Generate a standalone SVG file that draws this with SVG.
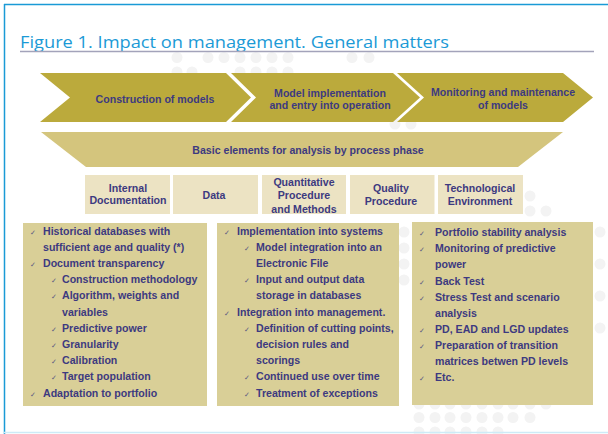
<svg xmlns="http://www.w3.org/2000/svg" width="608" height="434" viewBox="0 0 608 434">
<style>
.t{font-family:"Liberation Sans",Arial,sans-serif;font-weight:bold;font-size:10.6px;fill:#3d3a80}
.c{text-anchor:middle}
.ck{font-family:"DejaVu Sans",sans-serif;font-size:7px;fill:#5a5a82}
.chev{fill:#bbaa3c}
.trap{fill:#d4c57d}
.el{fill:#ece3c3}
.lst{fill:#d9cf97}
.dot{fill:#f3f3f3}
</style>
<rect x="0" y="0" width="608" height="434" fill="#ffffff"/>
<g id="background-dots">
<circle class="dot" cx="177" cy="57.5" r="5.5"/>
<circle class="dot" cx="208" cy="57.5" r="5.5"/>
<circle class="dot" cx="224" cy="57.5" r="5.5"/>
<circle class="dot" cx="240" cy="57.5" r="5.5"/>
<circle class="dot" cx="256" cy="57.5" r="5.5"/>
<circle class="dot" cx="272" cy="57.5" r="5.5"/>
<circle class="dot" cx="288" cy="57.5" r="5.5"/>
<circle class="dot" cx="352" cy="57.5" r="5.5"/>
<circle class="dot" cx="369" cy="57.5" r="5.5"/>
<circle class="dot" cx="177" cy="72" r="5.5"/>
<circle class="dot" cx="192" cy="72" r="5.5"/>
<circle class="dot" cx="240" cy="72" r="5.5"/>
<circle class="dot" cx="256" cy="72" r="5.5"/>
<circle class="dot" cx="272" cy="72" r="5.5"/>
<circle class="dot" cx="288" cy="72" r="5.5"/>
<circle class="dot" cx="395" cy="124" r="5.5"/>
<circle class="dot" cx="411" cy="124" r="5.5"/>
<circle class="dot" cx="530" cy="196" r="5.5"/>
<circle class="dot" cx="530" cy="211" r="5.5"/>
<circle class="dot" cx="546" cy="211" r="5.5"/>
<circle class="dot" cx="404" cy="232" r="5.5"/>
<circle class="dot" cx="404" cy="248" r="5.5"/>
<circle class="dot" cx="404" cy="264" r="5.5"/>
<circle class="dot" cx="404" cy="280" r="5.5"/>
<circle class="dot" cx="600" cy="232" r="5.5"/>
<circle class="dot" cx="600" cy="264" r="5.5"/>
<circle class="dot" cx="600" cy="296" r="5.5"/>
<circle class="dot" cx="600" cy="328" r="5.5"/>
<circle class="dot" cx="419" cy="404" r="5.5"/>
<circle class="dot" cx="435" cy="404" r="5.5"/>
<circle class="dot" cx="450" cy="404" r="5.5"/>
<circle class="dot" cx="466" cy="404" r="5.5"/>
<circle class="dot" cx="482" cy="404" r="5.5"/>
<circle class="dot" cx="498" cy="404" r="5.5"/>
<circle class="dot" cx="513" cy="404" r="5.5"/>
<circle class="dot" cx="530" cy="404" r="5.5"/>
<circle class="dot" cx="546" cy="404" r="5.5"/>
<circle class="dot" cx="419" cy="417.5" r="5.5"/>
<circle class="dot" cx="435" cy="417.5" r="5.5"/>
<circle class="dot" cx="450" cy="417.5" r="5.5"/>
<circle class="dot" cx="466" cy="417.5" r="5.5"/>
<circle class="dot" cx="482" cy="417.5" r="5.5"/>
<circle class="dot" cx="498" cy="417.5" r="5.5"/>
<circle class="dot" cx="513" cy="417.5" r="5.5"/>
<circle class="dot" cx="530" cy="417.5" r="5.5"/>
<circle class="dot" cx="419" cy="432" r="5.5"/>
<circle class="dot" cx="435" cy="432" r="5.5"/>
<circle class="dot" cx="450" cy="432" r="5.5"/>
<circle class="dot" cx="466" cy="432" r="5.5"/>
<circle class="dot" cx="482" cy="432" r="5.5"/>
<circle class="dot" cx="498" cy="432" r="5.5"/>
</g>
<g id="frame">
<line x1="4.5" y1="4" x2="4.5" y2="434" stroke="#1a9ad6" stroke-width="1.5"/>
<line x1="4" y1="4.5" x2="608" y2="4.5" stroke="#1a9ad6" stroke-width="1.5"/>
<line x1="4" y1="432.5" x2="608" y2="432.5" stroke="#cdebf7" stroke-width="1.5"/>
</g>
<g id="title">
<text x="20" y="48" font-family="'Open Sans','Noto Sans',sans-serif" font-size="17" fill="#1b9ad6" textLength="429" lengthAdjust="spacingAndGlyphs">Figure 1. Impact on management. General matters</text>
<line x1="20" y1="51.5" x2="594" y2="51.5" stroke="#a3a3ba" stroke-width="1.3"/>
</g>
<g id="phase-construction">
<polygon class="chev" points="40,73 226,73 251,97.5 226,122 40,122 70,97.5"/>
<text class="t c" x="155" y="103">Construction of models</text>
</g>
<g id="phase-implementation">
<polygon class="chev" points="231,73 393,73 420,97.5 393,122 231,122 256,97.5"/>
<text class="t c" x="330" y="97">Model implementation</text>
<text class="t c" x="330" y="109">and entry into operation</text>
</g>
<g id="phase-monitoring">
<polygon class="chev" points="397,73 563,73 593,97.5 563,122 397,122 424,97.5"/>
<text class="t c" x="503" y="96">Monitoring and maintenance</text>
<text class="t c" x="503" y="108.5">of models</text>
</g>
<g id="basic-elements">
<polygon class="trap" points="41,132 563,132 518,167 86,167"/>
<text class="t c" x="308" y="154">Basic elements for analysis by process phase</text>
</g>
<g id="el-internal-doc">
<rect class="el" x="85" y="175" width="85" height="39"/>
<text class="t c" x="128" y="191.5">Internal</text>
<text class="t c" x="128" y="204">Documentation</text>
</g>
<g id="el-data">
<rect class="el" x="173" y="175" width="85" height="39"/>
<text class="t c" x="214" y="199">Data</text>
</g>
<g id="el-quantitative">
<rect class="el" x="262" y="175" width="84" height="39"/>
<text class="t c" x="304" y="185.5">Quantitative</text>
<text class="t c" x="304" y="199">Procedure</text>
<text class="t c" x="304" y="212.5">and  Methods</text>
</g>
<g id="el-quality">
<rect class="el" x="350" y="175" width="84.5" height="39"/>
<text class="t c" x="391" y="191.5">Quality</text>
<text class="t c" x="391" y="205">Procedure</text>
</g>
<g id="el-technological">
<rect class="el" x="438" y="175" width="85" height="39"/>
<text class="t c" x="480" y="191.5">Technological</text>
<text class="t c" x="480" y="205">Environment</text>
</g>
<g id="list-construction">
<rect class="lst" x="23" y="223" width="184" height="183"/>
<text class="ck" x="30" y="234.5">✓</text><text class="t" x="43" y="234.5">Historical databases with</text>
<text class="t" x="43" y="250.7">sufficient age and quality (*)</text>
<text class="ck" x="30" y="266.9">✓</text><text class="t" x="43" y="266.9">Document transparency</text>
<text class="ck" x="51" y="283.1">✓</text><text class="t" x="62" y="283.1">Construction methodology</text>
<text class="ck" x="51" y="299.3">✓</text><text class="t" x="62" y="299.3">Algorithm, weights and</text>
<text class="t" x="62" y="315.5">variables</text>
<text class="ck" x="51" y="331.7">✓</text><text class="t" x="62" y="331.7">Predictive power</text>
<text class="ck" x="51" y="347.9">✓</text><text class="t" x="62" y="347.9">Granularity</text>
<text class="ck" x="51" y="364.1">✓</text><text class="t" x="62" y="364.1">Calibration</text>
<text class="ck" x="51" y="380.3">✓</text><text class="t" x="62" y="380.3">Target population</text>
<text class="ck" x="30" y="396.5">✓</text><text class="t" x="43" y="396.5">Adaptation to portfolio</text>
</g>
<g id="list-implementation">
<rect class="lst" x="217" y="223" width="182" height="183"/>
<text class="ck" x="224" y="234.5">✓</text><text class="t" x="237" y="234.5">Implementation into systems</text>
<text class="ck" x="244" y="250.7">✓</text><text class="t" x="256" y="250.7">Model integration into an</text>
<text class="t" x="256" y="266.9">Electronic File</text>
<text class="ck" x="244" y="283.1">✓</text><text class="t" x="256" y="283.1">Input and output data</text>
<text class="t" x="256" y="299.3">storage in databases</text>
<text class="ck" x="224" y="315.5">✓</text><text class="t" x="237" y="315.5">Integration into management.</text>
<text class="ck" x="244" y="331.7">✓</text><text class="t" x="256" y="331.7">Definition of cutting points,</text>
<text class="t" x="256" y="347.9">decision rules and</text>
<text class="t" x="256" y="364.1">scorings</text>
<text class="ck" x="244" y="380.3">✓</text><text class="t" x="256" y="380.3">Continued use over time</text>
<text class="ck" x="244" y="396.5">✓</text><text class="t" x="256" y="396.5">Treatment of exceptions</text>
</g>
<g id="list-monitoring">
<rect class="lst" x="412" y="222" width="181" height="183"/>
<text class="ck" x="419" y="236">✓</text><text class="t" x="435" y="236">Portfolio stability analysis</text>
<text class="ck" x="419" y="252">✓</text><text class="t" x="435" y="252">Monitoring of predictive</text>
<text class="t" x="435" y="268">power</text>
<text class="ck" x="419" y="284.5">✓</text><text class="t" x="435" y="284.5">Back Test</text>
<text class="ck" x="419" y="300.5">✓</text><text class="t" x="435" y="300.5">Stress Test and scenario</text>
<text class="t" x="435" y="316.5">analysis</text>
<text class="ck" x="419" y="332.5">✓</text><text class="t" x="435" y="332.5">PD, EAD and LGD updates</text>
<text class="ck" x="419" y="348.5">✓</text><text class="t" x="435" y="348.5">Preparation of transition</text>
<text class="t" x="435" y="364.5">matrices betwen PD levels</text>
<text class="ck" x="419" y="381">✓</text><text class="t" x="435" y="381">Etc.</text>
</g>
<g id="connectors"/>
</svg>
